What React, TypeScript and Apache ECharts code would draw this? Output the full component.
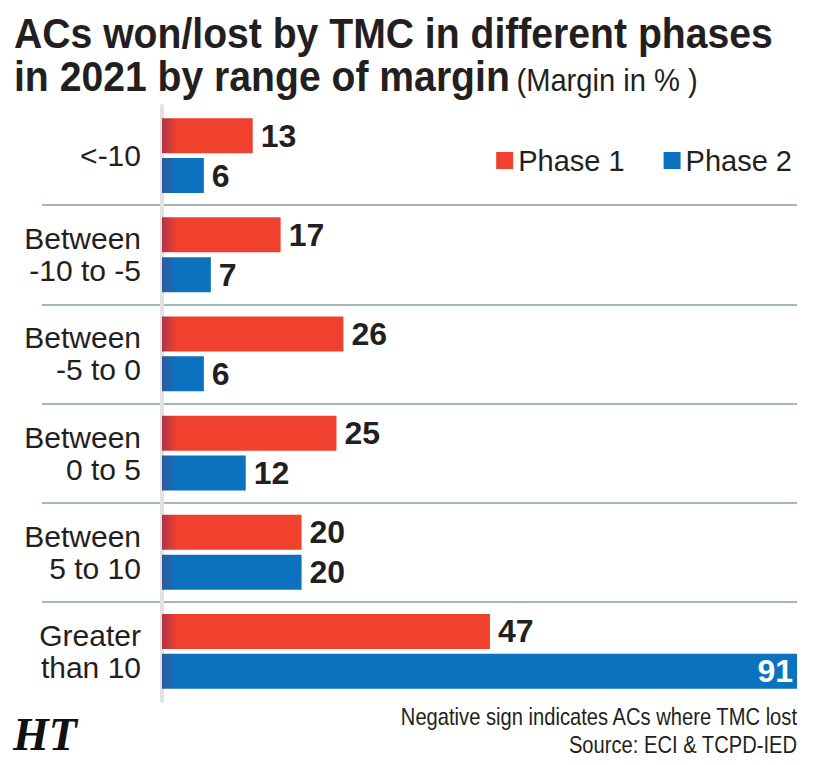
import React, { useEffect, useRef } from "react";
import * as echarts from "echarts";

// Margin ranges (in %), top to bottom
const categories = [
  "<-10",
  "Between\n-10 to -5",
  "Between\n-5 to 0",
  "Between\n0 to 5",
  "Between\n5 to 10",
  "Greater\nthan 10",
];
const seriesNames = ["Phase 1", "Phase 2"];
const phase1 = [13, 17, 26, 25, 20, 47];
const phase2 = [6, 7, 6, 12, 20, 91];

const titleLine1 = "ACs won/lost by TMC in different phases";
const titleLine2 = "in 2021 by range of margin";
const titleUnit = "(Margin in % )";
const noteText = "Negative sign indicates ACs where TMC lost";
const sourceText = "Source: ECI & TCPD-IED";

const RED = "#ef412d";
const BLUE = "#0b72c0";
const INK = "#231f20";
const SANS = "'Liberation Sans', Arial, sans-serif";

// Bars get a dark fade along their base, drawn with a gradient in pixel space
const BASE_X = 162;
const redFill = new echarts.graphic.LinearGradient(
  BASE_X, 0, BASE_X + 15, 0,
  [
    { offset: 0, color: "#b03545" },
    { offset: 1, color: RED },
  ],
  true
);
const blueFill = new echarts.graphic.LinearGradient(
  BASE_X, 0, BASE_X + 15, 0,
  [
    { offset: 0, color: "#2f5a9c" },
    { offset: 1, color: BLUE },
  ],
  true
);

const maxValue = Math.max(...phase2, ...phase1);

export default function App() {
  const ref = useRef<HTMLDivElement>(null);

  useEffect(() => {
    if (!ref.current) return;
    const chart = echarts.init(ref.current, null, { renderer: "svg" });

    const valueLabel = {
      show: true,
      position: "right",
      distance: 8,
      color: INK,
      fontFamily: SANS,
      fontWeight: "bold",
      fontSize: 32,
    };

    const gridTop = 106;
    const gridBottom = 64;

    chart.setOption({
      animation: false,
      backgroundColor: "#ffffff",
      legend: {
        right: 21,
        top: 141,
        icon: "rect",
        itemWidth: 17,
        itemHeight: 17,
        itemGap: 39,
        textStyle: {
          fontFamily: SANS,
          fontSize: 29,
          color: INK,
        },
        data: [
          { name: seriesNames[0], itemStyle: { color: RED } },
          { name: seriesNames[1], itemStyle: { color: BLUE } },
        ],
      },
      grid: [
        // bars
        { left: BASE_X, right: 21, top: gridTop, bottom: gridBottom, outerBoundsMode: "none", containLabel: false },
        // row separators, running under the category labels too
        { left: 42, right: 21, top: gridTop, bottom: gridBottom, outerBoundsMode: "none", containLabel: false },
      ],
      xAxis: [
        { type: "value", gridIndex: 0, min: 0, max: maxValue, show: false },
        { type: "value", gridIndex: 1, min: 0, max: maxValue, show: false },
      ],
      yAxis: [
        {
          type: "category",
          gridIndex: 0,
          inverse: true,
          data: categories,
          z: 3,
          axisLine: {
            show: true,
            lineStyle: { color: "#e2e2e2", width: 4 },
          },
          axisTick: { show: false },
          axisLabel: {
            margin: 21,
            fontFamily: SANS,
            fontSize: 30,
            lineHeight: 32,
            color: INK,
            align: "right",
          },
          splitLine: { show: false },
        },
        {
          type: "category",
          gridIndex: 1,
          inverse: true,
          data: categories,
          axisLine: { show: false },
          axisTick: { show: false },
          axisLabel: { show: false },
          splitLine: {
            show: true,
            showMinLine: false,
            showMaxLine: false,
            lineStyle: { color: "#a3b6ba", width: 2 },
          },
        },
      ],
      series: [
        {
          name: seriesNames[0],
          type: "bar",
          xAxisIndex: 0,
          yAxisIndex: 0,
          data: phase1,
          barWidth: 35,
          barGap: "14%",
          z: 4,
          itemStyle: { color: redFill },
          label: valueLabel,
        },
        {
          name: seriesNames[1],
          type: "bar",
          xAxisIndex: 0,
          yAxisIndex: 0,
          data: phase2.map((v) =>
            v === maxValue
              ? {
                  value: v,
                  label: {
                    position: "insideRight",
                    distance: 4,
                    color: "#ffffff",
                  },
                }
              : v
          ),
          barWidth: 35,
          z: 4,
          itemStyle: { color: blueFill },
          label: valueLabel,
        },
      ],
      graphic: [
        {
          type: "text",
          x: 14,
          y: 33,
          scaleX: 0.91,
          style: {
            text: titleLine1,
            fontFamily: SANS,
            fontWeight: "bold",
            fontSize: 43,
            fill: INK,
            verticalAlign: "middle",
          },
        },
        {
          type: "text",
          x: 14,
          y: 76,
          scaleX: 0.91,
          style: {
            text: `{b|${titleLine2}} {n|${titleUnit}}`,
            verticalAlign: "middle",
            rich: {
              b: {
                fontFamily: SANS,
                fontWeight: "bold",
                fontSize: 43,
                fill: INK,
                color: INK,
              },
              n: {
                fontFamily: SANS,
                fontSize: 32,
                fill: INK,
                color: INK,
                padding: [6, 0, 0, 4],
              },
            },
          },
        },
        {
          type: "text",
          x: 797,
          y: 717,
          scaleX: 0.84,
          style: {
            text: noteText,
            fontFamily: SANS,
            fontSize: 24,
            fill: INK,
            align: "right",
            verticalAlign: "middle",
          },
        },
        {
          type: "text",
          x: 797,
          y: 745,
          scaleX: 0.84,
          style: {
            text: sourceText,
            fontFamily: SANS,
            fontSize: 24,
            fill: INK,
            align: "right",
            verticalAlign: "middle",
          },
        },
        {
          type: "text",
          x: 13,
          y: 734,
          style: {
            text: "HT",
            fontFamily: "'Liberation Serif', 'DejaVu Serif', serif",
            fontWeight: "bold",
            fontStyle: "italic",
            fontSize: 46,
            fill: "#111111",
            verticalAlign: "middle",
          },
        },
      ],
    });

    return () => chart.dispose();
  }, []);

  return (
    <div
      ref={ref}
      style={{ position: "fixed", left: 0, top: 0, width: 818, height: 765 }}
    />
  );
}
